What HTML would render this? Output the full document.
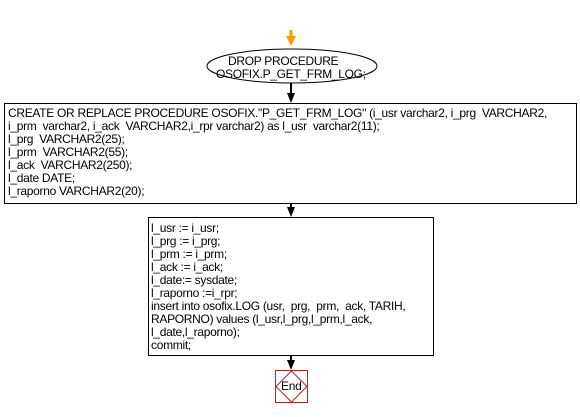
<!DOCTYPE html>
<html><head><style>
body{margin:0;width:580px;height:417px;background:#fff;position:relative;overflow:hidden;font-family:"Liberation Sans",Arial,sans-serif;font-size:12px;color:#000}
.t{position:absolute;white-space:pre;line-height:13px;letter-spacing:-0.3px}
</style></head><body>
<svg width="580" height="417" style="position:absolute;left:0;top:0">
<line x1="291" y1="30" x2="291" y2="40" stroke="#f5a000" stroke-width="3"/>
<polygon points="286,36 296,36 291,46" fill="#f5a000"/>
<ellipse cx="292" cy="66" rx="85" ry="17" fill="#fff" stroke="#000"/>
<line x1="291" y1="83" x2="291" y2="96" stroke="#000" stroke-width="2"/>
<polygon points="287,93 295,93 291,103" fill="#000"/>
<rect x="4.5" y="103.5" width="572" height="100" fill="#fff" stroke="#000"/>
<line x1="291" y1="204" x2="291" y2="212" stroke="#000" stroke-width="2"/>
<polygon points="287,207 295,207 291,217" fill="#000"/>
<rect x="148.5" y="217.5" width="285" height="138" fill="#fff" stroke="#000"/>
<line x1="291" y1="356" x2="291" y2="364" stroke="#000" stroke-width="2"/>
<polygon points="287,360 295,360 291,370" fill="#000"/>
<rect x="275.5" y="370.5" width="32" height="32" fill="#fff" stroke="#a52a2a"/>
<polygon points="291.5,371 307,386.5 291.5,402 276,386.5" fill="none" stroke="#a52a2a"/>
</svg>
<div class="t" style="left:228px;top:55px">DROP PROCEDURE</div>
<div class="t" style="left:216px;top:68px">OSOFIX.P_GET_FRM_LOG;</div>
<div class="t" style="left:8px;top:107px">CREATE OR REPLACE PROCEDURE OSOFIX."P_GET_FRM_LOG" (i_usr varchar2, i_prg  VARCHAR2,
i_prm  varchar2, i_ack  VARCHAR2,i_rpr varchar2) as l_usr  varchar2(11);
l_prg  VARCHAR2(25);
l_prm  VARCHAR2(55);
l_ack  VARCHAR2(250);
l_date DATE;
l_raporno VARCHAR2(20);</div>
<div class="t" style="left:151px;top:222px">l_usr := i_usr;
l_prg := i_prg;
l_prm := i_prm;
l_ack := i_ack;
l_date:= sysdate;
l_raporno :=i_rpr;
insert into osofix.LOG (usr,  prg,  prm,  ack, TARIH,
RAPORNO) values (l_usr,l_prg,l_prm,l_ack,
l_date,l_raporno);
commit;</div>
<div class="t" style="left:281px;top:380px">End</div>
</body></html>
